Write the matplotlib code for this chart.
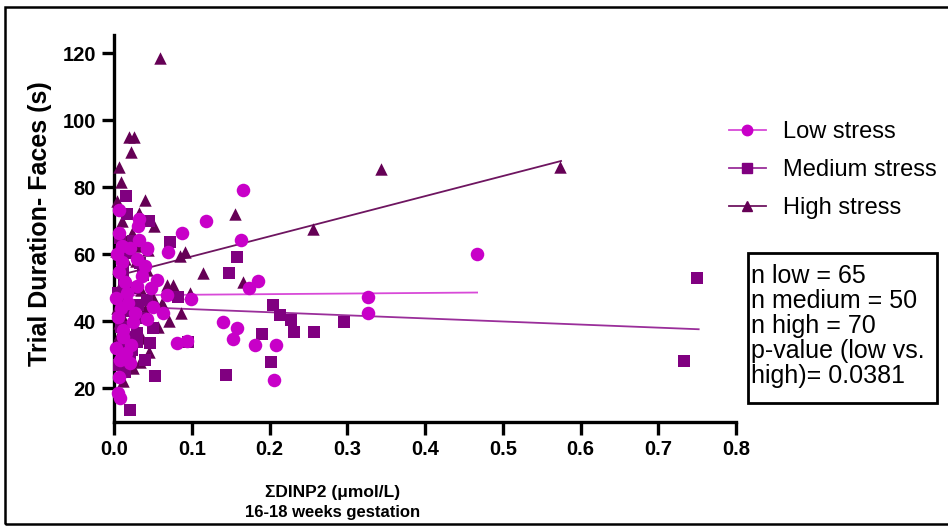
import numpy as np
import matplotlib
matplotlib.use("Agg")
from matplotlib import pyplot as plt
from matplotlib.lines import Line2D
from matplotlib.patches import Rectangle

# data (x in umol/L, y in s)
low_x = [0.166, 0.006, 0.032, 0.118, 0.088, 0.006, 0.032, 0.163, 0.043, 0.070,
         0.010, 0.030, 0.010, 0.007, 0.185, 0.173, 0.048, 0.029, 0.068, 0.099,
         0.327, 0.327, 0.050, 0.063, 0.140, 0.158, 0.153, 0.181, 0.208, 0.081,
         0.094, 0.206, 0.007, 0.005, 0.008, 0.043, 0.025, 0.005, 0.012, 0.012,
         0.008, 0.021, 0.467, 0.031, 0.021, 0.042, 0.014,
         0.003, 0.018, 0.036, 0.004, 0.022, 0.015, 0.040, 0.003, 0.027, 0.055,
         0.017, 0.009]
low_y = [79.3, 73.4, 70.7, 70.0, 66.5, 66.5, 64.4, 64.4, 61.7, 60.8,
         62.6, 58.7, 57.9, 54.9, 52.2, 50.1, 50.1, 50.7, 48.0, 46.8,
         47.4, 42.6, 44.4, 42.6, 39.7, 38.2, 34.9, 33.1, 33.1, 33.7,
         34.3, 22.4, 23.3, 18.8, 17.3, 40.6, 39.7, 41.2, 37.6, 35.5,
         28.6, 27.7, 60.0, 68.6, 62.0, 62.0, 51.9,
         47.0, 45.5, 53.5, 60.0, 33.0, 30.5, 56.5, 32.0, 42.5, 52.5,
         48.5, 44.0]

med_x = [0.015, 0.017, 0.045, 0.072, 0.158, 0.148, 0.037, 0.082, 0.205, 0.213,
         0.228, 0.231, 0.257, 0.296, 0.190, 0.095, 0.046, 0.202, 0.144, 0.053,
         0.021, 0.030, 0.023, 0.014, 0.029, 0.750, 0.733, 0.031, 0.043,
         0.008, 0.020, 0.012, 0.027, 0.005, 0.016, 0.035, 0.009, 0.020, 0.040,
         0.006, 0.026, 0.013, 0.033, 0.018, 0.050, 0.010, 0.024]
med_y = [77.5, 72.2, 70.0, 63.8, 59.3, 54.6, 54.0, 47.4, 45.0, 42.0,
         40.3, 37.0, 37.0, 39.7, 36.4, 34.0, 33.7, 28.0, 23.9, 23.6,
         13.7, 36.7, 31.6, 24.8, 34.0, 53.1, 28.3, 45.0, 46.5,
         65.0, 60.5, 55.0, 50.0, 48.5, 43.0, 41.0, 38.5, 29.0, 28.5,
         27.0, 44.5, 51.5, 57.5, 35.5, 38.0, 32.5, 64.0]

high_x = [0.059, 0.019, 0.026, 0.022, 0.006, 0.009, 0.040, 0.032, 0.156, 0.343,
          0.573, 0.256, 0.115, 0.166, 0.051, 0.023, 0.091, 0.085, 0.044, 0.068,
          0.076, 0.098, 0.086, 0.071, 0.057, 0.033, 0.012,
          0.004, 0.010, 0.015, 0.028, 0.005, 0.018, 0.035, 0.008, 0.022, 0.040,
          0.012, 0.027, 0.006, 0.018, 0.045, 0.010, 0.025, 0.004, 0.030, 0.014,
          0.050, 0.020, 0.008, 0.036, 0.002, 0.016, 0.042, 0.062, 0.007, 0.013]
high_y = [118.7, 95.1, 95.1, 90.6, 86.2, 81.7, 76.3, 72.5, 72.2, 85.6,
          86.0, 67.7, 54.6, 51.9, 68.6, 66.5, 60.8, 59.6, 61.4, 51.0,
          51.0, 48.6, 42.6, 40.0, 38.5, 28.0, 22.1,
          76.0, 70.0, 64.0, 58.0, 56.0, 52.0, 49.5, 47.0, 45.0, 43.5,
          41.0, 38.0, 36.0, 33.5, 31.0, 30.0, 26.0, 44.0, 62.5, 58.5,
          47.0, 40.0, 50.5, 35.0, 61.0, 27.5, 55.5, 45.5, 39.5, 47.5]

# fitted lines: intercept, slope, x range
fit_low = [47.8, 1.8, 0.003, 0.467]
fit_med = [44.6, -9.2, 0.003, 0.752]
fit_high = [53.4, 60.0, 0.003, 0.575]

labels = ["Low stress", "Medium stress", "High stress"]
stats_text = "n low = 65\nn medium = 50\nn high = 70\np-value (low vs.\nhigh)= 0.0381"

c_low, c_med, c_high = "#C800C8", "#800080", "#650055"
l_low, l_med, l_high = "#D84AD8", "#9A2E9A", "#6E1560"

arial = ["Liberation Sans", "DejaVu Sans"]

fig = plt.figure(figsize=(9.48, 5.27), dpi=100)
ax = fig.add_axes([114/948, 1-422/527, (736-114)/948, (422-35)/527])

def fit_line(p):
    xs = np.array([p[2], p[3]])
    return xs, p[0] + p[1]*xs

for p, col in [(fit_high, l_high), (fit_med, l_med), (fit_low, l_low)]:
    xs, ys = fit_line(p)
    ax.plot(xs, ys, color=col, lw=1.3, zorder=2)

ax.scatter(high_x, high_y, marker="^", s=80, color=c_high, lw=0, zorder=3, clip_on=False)
ax.scatter(med_x, med_y, marker="s", s=70, color=c_med, lw=0, zorder=4, clip_on=False)
ax.scatter(low_x, low_y, marker="o", s=95, color=c_low, lw=0, zorder=5, clip_on=False)

ax.set_xlim(0, 0.8)
ax.set_ylim(10, 125.5)
ax.set_xticks(np.arange(0, 0.81, 0.1))
ax.set_yticks([20, 40, 60, 80, 100, 120])
ax.set_xticklabels([f"{v:.1f}" for v in np.arange(0, 0.81, 0.1)])
for s in ["top", "right"]:
    ax.spines[s].set_visible(False)
for s in ["left", "bottom"]:
    ax.spines[s].set_linewidth(2.4)
ax.tick_params(width=2.4, length=9, labelsize=14.5, pad=4)
for t in ax.get_xticklabels() + ax.get_yticklabels():
    t.set_family(arial)
    t.set_fontweight("bold")

fig.text(40/948, 1-224/527, "Trial Duration- Faces (s)", rotation=90, ha="center",
         va="center", fontsize=18, fontweight="bold", family=arial)
fig.text(333/948, 1-493/527, "\u03a3DINP2 (\u03bcmol/L)", ha="center", va="center",
         fontsize=12.5, fontweight="bold", family=arial)
fig.text(333/948, 1-513/527, "16-18 weeks gestation", ha="center", va="center",
         fontsize=12, fontweight="bold", family=arial)

handles = [Line2D([], [], color=l_low, marker="o", ms=7.5, mfc=c_low, mec=c_low, lw=1.3),
           Line2D([], [], color=l_med, marker="s", ms=7, mfc=c_med, mec=c_med, lw=1.3),
           Line2D([], [], color=l_high, marker="^", ms=7.5, mfc=c_high, mec=c_high, lw=1.3)]
fig.legend(handles, labels, loc="center left", bbox_to_anchor=(729/948, 1-170/527),
           frameon=False, prop={"family": arial, "size": 17}, handlelength=1.55,
           labelspacing=0.68, handletextpad=0.75, borderaxespad=0, borderpad=0)

fig.patches.append(Rectangle((748/948, 1-403/527), 189/948, 150/527,
                             transform=fig.transFigure, fill=False, ec="black", lw=2))
fig.text(751/948, 1-326/527, stats_text, ha="left", va="center", fontsize=18,
         family=arial, linespacing=1.05)

fig.patches.append(Rectangle((5/948, 3/527), 1.0, 1-10/527, transform=fig.transFigure,
                             fill=False, ec="black", lw=1.8))

plt.savefig("out.png", dpi=100)
plt.close()
